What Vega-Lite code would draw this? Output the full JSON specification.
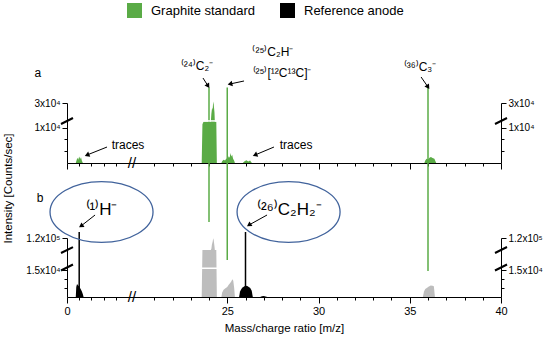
{
  "$schema": "https://vega.github.io/schema/vega-lite/v6.json",
  "autosize": {"type": "none"},
  "padding": {"left": 67, "top": 0, "right": 49, "bottom": 45},
  "width": 434,
  "height": 297,
  "config": {
    "font": "Liberation Sans",
    "view": {"stroke": null},
    "axis": {"grid": false, "labelColor": "#000", "titleColor": "#000", "domainColor": "#000", "tickColor": "#000", "labelFont": "Liberation Sans", "titleFont": "Liberation Sans"},
    "text": {"font": "Liberation Sans", "color": "#000"},
    "legend": {"labelFont": "Liberation Sans"}
  },
  "datasets": {
    "spectra": [
      {"series": "Graphite standard", "panel": "a", "peak": "a1", "mz": 0.72, "intensity": 0},
      {"series": "Graphite standard", "panel": "a", "peak": "a1", "mz": 0.78, "intensity": 700},
      {"series": "Graphite standard", "panel": "a", "peak": "a1", "mz": 0.85, "intensity": 1500},
      {"series": "Graphite standard", "panel": "a", "peak": "a1", "mz": 0.92, "intensity": 900},
      {"series": "Graphite standard", "panel": "a", "peak": "a1", "mz": 1.0, "intensity": 1800},
      {"series": "Graphite standard", "panel": "a", "peak": "a1", "mz": 1.08, "intensity": 1100},
      {"series": "Graphite standard", "panel": "a", "peak": "a1", "mz": 1.15, "intensity": 1600},
      {"series": "Graphite standard", "panel": "a", "peak": "a1", "mz": 1.22, "intensity": 600},
      {"series": "Graphite standard", "panel": "a", "peak": "a1", "mz": 1.3, "intensity": 0},
      {"series": "Graphite standard", "panel": "a", "peak": "a24", "mz": 23.6, "intensity": 0},
      {"series": "Graphite standard", "panel": "a", "peak": "a24", "mz": 23.64, "intensity": 11000},
      {"series": "Graphite standard", "panel": "a", "peak": "a24", "mz": 23.7, "intensity": 11800},
      {"series": "Graphite standard", "panel": "a", "peak": "a24", "mz": 23.85, "intensity": 11800},
      {"series": "Graphite standard", "panel": "a", "peak": "a24", "mz": 24.0, "intensity": 11800},
      {"series": "Graphite standard", "panel": "a", "peak": "a24", "mz": 24.1, "intensity": 11800},
      {"series": "Graphite standard", "panel": "a", "peak": "a24", "mz": 24.13, "intensity": 26500},
      {"series": "Graphite standard", "panel": "a", "peak": "a24", "mz": 24.17, "intensity": 28500},
      {"series": "Graphite standard", "panel": "a", "peak": "a24", "mz": 24.2, "intensity": 27800},
      {"series": "Graphite standard", "panel": "a", "peak": "a24", "mz": 24.23, "intensity": 30500},
      {"series": "Graphite standard", "panel": "a", "peak": "a24", "mz": 24.26, "intensity": 29500},
      {"series": "Graphite standard", "panel": "a", "peak": "a24", "mz": 24.3, "intensity": 27000},
      {"series": "Graphite standard", "panel": "a", "peak": "a24", "mz": 24.32, "intensity": 11800},
      {"series": "Graphite standard", "panel": "a", "peak": "a24", "mz": 24.4, "intensity": 11800},
      {"series": "Graphite standard", "panel": "a", "peak": "a24", "mz": 24.43, "intensity": 0},
      {"series": "Graphite standard", "panel": "a", "peak": "a25", "mz": 24.68, "intensity": 0},
      {"series": "Graphite standard", "panel": "a", "peak": "a25", "mz": 24.72, "intensity": 500},
      {"series": "Graphite standard", "panel": "a", "peak": "a25", "mz": 24.8, "intensity": 900},
      {"series": "Graphite standard", "panel": "a", "peak": "a25", "mz": 24.88, "intensity": 700},
      {"series": "Graphite standard", "panel": "a", "peak": "a25", "mz": 24.95, "intensity": 1300},
      {"series": "Graphite standard", "panel": "a", "peak": "a25", "mz": 25.02, "intensity": 1100},
      {"series": "Graphite standard", "panel": "a", "peak": "a25", "mz": 25.08, "intensity": 1900},
      {"series": "Graphite standard", "panel": "a", "peak": "a25", "mz": 25.13, "intensity": 1500},
      {"series": "Graphite standard", "panel": "a", "peak": "a25", "mz": 25.18, "intensity": 2800},
      {"series": "Graphite standard", "panel": "a", "peak": "a25", "mz": 25.22, "intensity": 1800},
      {"series": "Graphite standard", "panel": "a", "peak": "a25", "mz": 25.27, "intensity": 2300},
      {"series": "Graphite standard", "panel": "a", "peak": "a25", "mz": 25.32, "intensity": 1200},
      {"series": "Graphite standard", "panel": "a", "peak": "a25", "mz": 25.38, "intensity": 600},
      {"series": "Graphite standard", "panel": "a", "peak": "a25", "mz": 25.42, "intensity": 0},
      {"series": "Graphite standard", "panel": "a", "peak": "a26", "mz": 25.85, "intensity": 0},
      {"series": "Graphite standard", "panel": "a", "peak": "a26", "mz": 25.95, "intensity": 500},
      {"series": "Graphite standard", "panel": "a", "peak": "a26", "mz": 26.05, "intensity": 800},
      {"series": "Graphite standard", "panel": "a", "peak": "a26", "mz": 26.15, "intensity": 400},
      {"series": "Graphite standard", "panel": "a", "peak": "a26", "mz": 26.25, "intensity": 700},
      {"series": "Graphite standard", "panel": "a", "peak": "a26", "mz": 26.35, "intensity": 0},
      {"series": "Graphite standard", "panel": "a", "peak": "a36", "mz": 35.8, "intensity": 0},
      {"series": "Graphite standard", "panel": "a", "peak": "a36", "mz": 35.85, "intensity": 700},
      {"series": "Graphite standard", "panel": "a", "peak": "a36", "mz": 35.92, "intensity": 1200},
      {"series": "Graphite standard", "panel": "a", "peak": "a36", "mz": 36.0, "intensity": 1000},
      {"series": "Graphite standard", "panel": "a", "peak": "a36", "mz": 36.08, "intensity": 1500},
      {"series": "Graphite standard", "panel": "a", "peak": "a36", "mz": 36.16, "intensity": 1700},
      {"series": "Graphite standard", "panel": "a", "peak": "a36", "mz": 36.25, "intensity": 1400},
      {"series": "Graphite standard", "panel": "a", "peak": "a36", "mz": 36.35, "intensity": 1200},
      {"series": "Graphite standard", "panel": "a", "peak": "a36", "mz": 36.45, "intensity": 0},
      {"series": "Graphite standard", "panel": "b", "peak": "g24", "mz": 23.6, "intensity": 0},
      {"series": "Graphite standard", "panel": "b", "peak": "g24", "mz": 23.64, "intensity": 68000},
      {"series": "Graphite standard", "panel": "b", "peak": "g24", "mz": 23.7, "intensity": 70000},
      {"series": "Graphite standard", "panel": "b", "peak": "g24", "mz": 23.85, "intensity": 70000},
      {"series": "Graphite standard", "panel": "b", "peak": "g24", "mz": 24.0, "intensity": 70000},
      {"series": "Graphite standard", "panel": "b", "peak": "g24", "mz": 24.1, "intensity": 70000},
      {"series": "Graphite standard", "panel": "b", "peak": "g24", "mz": 24.13, "intensity": 100500},
      {"series": "Graphite standard", "panel": "b", "peak": "g24", "mz": 24.16, "intensity": 108000},
      {"series": "Graphite standard", "panel": "b", "peak": "g24", "mz": 24.2, "intensity": 113000},
      {"series": "Graphite standard", "panel": "b", "peak": "g24", "mz": 24.23, "intensity": 119500},
      {"series": "Graphite standard", "panel": "b", "peak": "g24", "mz": 24.26, "intensity": 116000},
      {"series": "Graphite standard", "panel": "b", "peak": "g24", "mz": 24.3, "intensity": 105000},
      {"series": "Graphite standard", "panel": "b", "peak": "g24", "mz": 24.32, "intensity": 70000},
      {"series": "Graphite standard", "panel": "b", "peak": "g24", "mz": 24.4, "intensity": 70000},
      {"series": "Graphite standard", "panel": "b", "peak": "g24", "mz": 24.43, "intensity": 0},
      {"series": "Graphite standard", "panel": "b", "peak": "g25", "mz": 24.68, "intensity": 0},
      {"series": "Graphite standard", "panel": "b", "peak": "g25", "mz": 24.72, "intensity": 2500},
      {"series": "Graphite standard", "panel": "b", "peak": "g25", "mz": 24.8, "intensity": 4000},
      {"series": "Graphite standard", "panel": "b", "peak": "g25", "mz": 24.9, "intensity": 4800},
      {"series": "Graphite standard", "panel": "b", "peak": "g25", "mz": 25.0, "intensity": 5600},
      {"series": "Graphite standard", "panel": "b", "peak": "g25", "mz": 25.08, "intensity": 6800},
      {"series": "Graphite standard", "panel": "b", "peak": "g25", "mz": 25.15, "intensity": 7600},
      {"series": "Graphite standard", "panel": "b", "peak": "g25", "mz": 25.22, "intensity": 8600},
      {"series": "Graphite standard", "panel": "b", "peak": "g25", "mz": 25.28, "intensity": 9800},
      {"series": "Graphite standard", "panel": "b", "peak": "g25", "mz": 25.33, "intensity": 9000},
      {"series": "Graphite standard", "panel": "b", "peak": "g25", "mz": 25.38, "intensity": 5000},
      {"series": "Graphite standard", "panel": "b", "peak": "g25", "mz": 25.42, "intensity": 0},
      {"series": "Graphite standard", "panel": "b", "peak": "g36", "mz": 35.72, "intensity": 0},
      {"series": "Graphite standard", "panel": "b", "peak": "g36", "mz": 35.78, "intensity": 3000},
      {"series": "Graphite standard", "panel": "b", "peak": "g36", "mz": 35.85, "intensity": 4500},
      {"series": "Graphite standard", "panel": "b", "peak": "g36", "mz": 35.95, "intensity": 5200},
      {"series": "Graphite standard", "panel": "b", "peak": "g36", "mz": 36.05, "intensity": 5800},
      {"series": "Graphite standard", "panel": "b", "peak": "g36", "mz": 36.15, "intensity": 6400},
      {"series": "Graphite standard", "panel": "b", "peak": "g36", "mz": 36.25, "intensity": 6200},
      {"series": "Graphite standard", "panel": "b", "peak": "g36", "mz": 36.32, "intensity": 6000},
      {"series": "Graphite standard", "panel": "b", "peak": "g36", "mz": 36.38, "intensity": 0},
      {"series": "Reference anode", "panel": "b", "peak": "b1", "mz": 0.72, "intensity": 0},
      {"series": "Reference anode", "panel": "b", "peak": "b1", "mz": 0.76, "intensity": 5500},
      {"series": "Reference anode", "panel": "b", "peak": "b1", "mz": 0.82, "intensity": 7200},
      {"series": "Reference anode", "panel": "b", "peak": "b1", "mz": 0.9, "intensity": 6500},
      {"series": "Reference anode", "panel": "b", "peak": "b1", "mz": 0.98, "intensity": 6000},
      {"series": "Reference anode", "panel": "b", "peak": "b1", "mz": 1.06, "intensity": 5200},
      {"series": "Reference anode", "panel": "b", "peak": "b1", "mz": 1.14, "intensity": 4200},
      {"series": "Reference anode", "panel": "b", "peak": "b1", "mz": 1.22, "intensity": 3000},
      {"series": "Reference anode", "panel": "b", "peak": "b1", "mz": 1.3, "intensity": 1500},
      {"series": "Reference anode", "panel": "b", "peak": "b1", "mz": 1.36, "intensity": 0},
      {"series": "Reference anode", "panel": "b", "peak": "b26", "mz": 25.65, "intensity": 0},
      {"series": "Reference anode", "panel": "b", "peak": "b26", "mz": 25.7, "intensity": 3000},
      {"series": "Reference anode", "panel": "b", "peak": "b26", "mz": 25.78, "intensity": 4600},
      {"series": "Reference anode", "panel": "b", "peak": "b26", "mz": 25.86, "intensity": 5400},
      {"series": "Reference anode", "panel": "b", "peak": "b26", "mz": 25.94, "intensity": 6000},
      {"series": "Reference anode", "panel": "b", "peak": "b26", "mz": 26.02, "intensity": 6300},
      {"series": "Reference anode", "panel": "b", "peak": "b26", "mz": 26.1, "intensity": 6100},
      {"series": "Reference anode", "panel": "b", "peak": "b26", "mz": 26.18, "intensity": 5600},
      {"series": "Reference anode", "panel": "b", "peak": "b26", "mz": 26.26, "intensity": 5000},
      {"series": "Reference anode", "panel": "b", "peak": "b26", "mz": 26.34, "intensity": 3500},
      {"series": "Reference anode", "panel": "b", "peak": "b26", "mz": 26.4, "intensity": 0},
      {"series": "Reference anode", "panel": "b", "peak": "b27", "mz": 26.8, "intensity": 0},
      {"series": "Reference anode", "panel": "b", "peak": "b27", "mz": 26.9, "intensity": 400},
      {"series": "Reference anode", "panel": "b", "peak": "b27", "mz": 27.0, "intensity": 600},
      {"series": "Reference anode", "panel": "b", "peak": "b27", "mz": 27.1, "intensity": 300},
      {"series": "Reference anode", "panel": "b", "peak": "b27", "mz": 27.2, "intensity": 0}
    ],
    "lines": [
      {"series": "Graphite standard", "panel": "a", "mz": 24, "lo": 0, "hi": 35000},
      {"series": "Graphite standard", "panel": "a", "mz": 25, "lo": 0, "hi": 35000},
      {"series": "Graphite standard", "panel": "a", "mz": 36, "lo": 0, "hi": 35000},
      {"series": "Graphite standard", "panel": "b", "mz": 24, "lo": 149000, "hi": 256400},
      {"series": "Graphite standard", "panel": "b", "mz": 25, "lo": 26000, "hi": 256400},
      {"series": "Graphite standard", "panel": "b", "mz": 36, "lo": 14500, "hi": 256400},
      {"series": "Reference anode", "panel": "b", "mz": 1, "lo": 0, "hi": 130900},
      {"series": "Reference anode", "panel": "b", "mz": 26, "lo": 0, "hi": 130900}
    ],
    "breaks": [
      {"panel": "a", "from": 23.57, "to": 24.46, "level": 12400},
      {"panel": "b", "from": 23.57, "to": 24.46, "level": 15500}
    ],
    "slashes": [
      {"panel": "a", "x1": -0.49, "x2": 0.49, "y1": 11080, "y2": 25160},
      {"panel": "a", "x1": 39.67, "x2": 40.33, "y1": 11080, "y2": 25160},
      {"panel": "b", "x1": -0.49, "x2": 0.49, "y1": 14720, "y2": 19100},
      {"panel": "b", "x1": 39.67, "x2": 40.33, "y1": 14720, "y2": 19100},
      {"panel": "b", "x1": -0.49, "x2": 0.49, "y1": 36900, "y2": 103600},
      {"panel": "b", "x1": 39.67, "x2": 40.33, "y1": 36900, "y2": 103600}
    ],
    "xbreaks": [
      {"panel": "a", "mz": 12.5, "level": 0, "label": "//"},
      {"panel": "b", "mz": 12.5, "level": 0, "label": "//"}
    ],
    "labels": [
      {"panel": "a", "label": "⁽²⁴⁾C₂⁻", "mz": 23.34, "level": 41900},
      {"panel": "a", "label": "⁽²⁵⁾C₂H⁻", "mz": 27.5, "level": 46450},
      {"panel": "a", "label": "⁽²⁵⁾[¹²C¹³C]⁻", "mz": 28.0, "level": 39680},
      {"panel": "a", "label": "⁽³⁶⁾C₃⁻", "mz": 35.56, "level": 41600},
      {"panel": "a", "label": "traces", "mz": 5.0, "level": 5070},
      {"panel": "a", "label": "traces", "mz": 28.77, "level": 5070},
      {"panel": "a", "label": "a", "mz": -2.38, "level": 39680},
      {"panel": "b", "label": "b", "mz": -2.21, "level": 192700}
    ],
    "biglabels": [
      {"label": "⁽¹⁾H⁻", "mz": 2.83, "level": 170900},
      {"label": "⁽²⁶⁾C₂H₂⁻", "mz": 28.4, "level": 170900}
    ],
    "ellipses": [
      {"ion": "H", "mz": 2.83, "level": 167300},
      {"ion": "C2H2", "mz": 28.36, "level": 167300}
    ],
    "arrows": [
      {"panel": "a", "id": "tr1", "dir": "dl", "x1": 3.28, "y1": 4500, "x2": 1.64, "y2": 2250},
      {"panel": "a", "id": "tr2", "dir": "dl", "x1": 27.56, "y1": 4500, "x2": 26.52, "y2": 2250},
      {"panel": "a", "id": "C2", "dir": "dr", "x1": 23.67, "y1": 38060, "x2": 23.95, "y2": 35480},
      {"panel": "a", "id": "CC", "dir": "l", "x1": 25.92, "y1": 37100, "x2": 25.15, "y2": 36130},
      {"panel": "a", "id": "C3", "dir": "dr", "x1": 35.62, "y1": 38390, "x2": 36.0, "y2": 35160},
      {"panel": "b", "id": "H", "dir": "dl2", "x1": 2.3, "y1": 161800, "x2": 1.15, "y2": 141800},
      {"panel": "b", "id": "C2H2", "dir": "dl2", "x1": 27.18, "y1": 161800, "x2": 26.19, "y2": 143600}
    ]
  },
  "resolve": {"scale": {"y": "independent"}, "axis": {"x": "independent", "y": "independent"}},
  "layer": [
    {
      "data": {"name": "spectra"},
      "transform": [{"filter": "datum.panel == 'a'"}],
      "mark": {"type": "area", "interpolate": "linear", "opacity": 1},
      "encoding": {
        "x": {"field": "mz", "type": "quantitative",
          "scale": {"type": "linear", "domain": [0, 5, 20, 40], "range": [0, 61, 69, 434], "zero": false, "nice": false},
          "axis": {"orient": "bottom", "offset": -134, "values": [0,1,2,3,4,21,22,23,24,25,26,27,28,29,30,31,32,33,34,35,36,37,38,39,40], "labels": false, "title": null, "tickSize": {"condition": {"test": "datum.value % 5 == 0", "value": 6}, "value": 3}}},
        "y": {"field": "intensity", "type": "quantitative", "stack": null,
          "scale": {"type": "linear", "domain": [0, 10000, 12000, 25000, 30000], "range": [163, 127.5, 121, 118.5, 103], "zero": false, "nice": false},
          "axis": {"orient": "left", "values": [3300, 6700, 10000, 30000], "labelExpr": "datum.value == 10000 ? '1x10⁴' : datum.value == 30000 ? '3x10⁴' : ''", "tickSize": {"condition": {"test": "datum.value == 10000 || datum.value == 30000", "value": 5}, "value": 3}, "labelFontSize": 10, "labelPadding": 2, "labelOverlap": false, "labelFlush": false,
            "title": "Intensity [Counts/sec]", "titleX": -59, "titleY": 188, "titleAngle": 270, "titleAlign": "center", "titleBaseline": "middle", "titleFontSize": 11.5, "titleFontWeight": "normal"}},
        "y2": {"datum": 0},
        "detail": {"field": "peak"},
        "color": {"field": "series", "type": "nominal",
          "scale": {"domain": ["Graphite standard", "Reference anode"], "range": ["#5aab46", "#000000"]},
          "legend": {"orient": "none", "legendX": 60, "legendY": 3, "direction": "horizontal", "title": null, "symbolType": "square", "symbolSize": 225, "symbolStrokeWidth": 0, "symbolOpacity": 1, "labelFontSize": 13, "labelOffset": 9, "columnPadding": 24}}
      }
    },
    {
      "data": {"name": "lines"},
      "transform": [{"filter": "datum.panel == 'a'"}],
      "mark": {"type": "rule", "color": "#5aab46", "strokeWidth": 1.5},
      "encoding": {
        "x": {"field": "mz", "type": "quantitative", "axis": null},
        "y": {"field": "lo", "type": "quantitative",
          "scale": {"type": "linear", "domain": [0, 10000, 12000, 25000, 30000], "range": [163, 127.5, 121, 118.5, 103], "zero": false, "nice": false},
          "axis": {"orient": "right", "values": [3300, 6700, 10000, 30000], "labelExpr": "datum.value == 10000 ? '1x10⁴' : datum.value == 30000 ? '3x10⁴' : ''", "tickSize": {"condition": {"test": "datum.value == 10000 || datum.value == 30000", "value": 5}, "value": 3}, "labelFontSize": 10, "labelPadding": 2, "labelOverlap": false, "labelFlush": false, "title": null}},
        "y2": {"field": "hi"}
      }
    },
    {
      "data": {"name": "breaks"},
      "transform": [{"filter": "datum.panel == 'a'"}],
      "mark": {"type": "rule", "color": "#ffffff", "strokeWidth": 1.5},
      "encoding": {
        "x": {"field": "from", "type": "quantitative", "axis": null},
        "x2": {"field": "to"},
        "y": {"field": "level", "type": "quantitative", "axis": null,
          "scale": {"type": "linear", "domain": [0, 10000, 12000, 25000, 30000], "range": [163, 127.5, 121, 118.5, 103], "zero": false, "nice": false}}
      }
    },
    {
      "data": {"name": "slashes"},
      "transform": [{"filter": "datum.panel == 'a'"}],
      "mark": {"type": "rule", "color": "#000000", "strokeWidth": 2},
      "encoding": {
        "x": {"field": "x1", "type": "quantitative", "axis": null},
        "x2": {"field": "x2"},
        "y": {"field": "y1", "type": "quantitative", "axis": null,
          "scale": {"type": "linear", "domain": [0, 10000, 12000, 25000, 30000], "range": [163, 127.5, 121, 118.5, 103], "zero": false, "nice": false}},
        "y2": {"field": "y2"}
      }
    },
    {
      "data": {"name": "xbreaks"},
      "transform": [{"filter": "datum.panel == 'a'"}],
      "mark": {"type": "text", "fontSize": 15, "align": "center", "baseline": "middle"},
      "encoding": {
        "x": {"field": "mz", "type": "quantitative", "axis": null},
        "y": {"field": "level", "type": "quantitative", "axis": null,
          "scale": {"type": "linear", "domain": [0, 10000, 12000, 25000, 30000], "range": [163, 127.5, 121, 118.5, 103], "zero": false, "nice": false}},
        "text": {"field": "label"}
      }
    },
    {
      "data": {"name": "labels"},
      "transform": [{"filter": "datum.panel == 'a'"}],
      "mark": {"type": "text", "fontSize": 12, "align": "center", "baseline": "middle"},
      "encoding": {
        "x": {"field": "mz", "type": "quantitative", "axis": null},
        "y": {"field": "level", "type": "quantitative", "axis": null,
          "scale": {"type": "linear", "domain": [0, 10000, 12000, 25000, 30000], "range": [163, 127.5, 121, 118.5, 103], "zero": false, "nice": false}},
        "text": {"field": "label"}
      }
    },
    {
      "data": {"name": "arrows"},
      "transform": [{"filter": "datum.panel == 'a'"}],
      "mark": {"type": "rule", "color": "#000000", "strokeWidth": 1},
      "encoding": {
        "x": {"field": "x1", "type": "quantitative", "axis": null},
        "x2": {"field": "x2"},
        "y": {"field": "y1", "type": "quantitative", "axis": null,
          "scale": {"type": "linear", "domain": [0, 10000, 12000, 25000, 30000], "range": [163, 127.5, 121, 118.5, 103], "zero": false, "nice": false}},
        "y2": {"field": "y2"}
      }
    },
    {
      "data": {"name": "arrows"},
      "transform": [{"filter": "datum.dir == 'dl'"}],
      "mark": {"type": "point", "shape": "triangle-up", "filled": true, "color": "#000000", "size": 30, "angle": 248, "opacity": 1},
      "encoding": {
        "x": {"field": "x2", "type": "quantitative", "axis": null},
        "y": {"field": "y2", "type": "quantitative", "axis": null,
          "scale": {"type": "linear", "domain": [0, 10000, 12000, 25000, 30000], "range": [163, 127.5, 121, 118.5, 103], "zero": false, "nice": false}}
      }
    },
    {
      "data": {"name": "arrows"},
      "transform": [{"filter": "datum.dir == 'dr'"}],
      "mark": {"type": "point", "shape": "triangle-up", "filled": true, "color": "#000000", "size": 30, "angle": 147, "opacity": 1},
      "encoding": {
        "x": {"field": "x2", "type": "quantitative", "axis": null},
        "y": {"field": "y2", "type": "quantitative", "axis": null,
          "scale": {"type": "linear", "domain": [0, 10000, 12000, 25000, 30000], "range": [163, 127.5, 121, 118.5, 103], "zero": false, "nice": false}}
      }
    },
    {
      "data": {"name": "arrows"},
      "transform": [{"filter": "datum.dir == 'l'"}],
      "mark": {"type": "point", "shape": "triangle-up", "filled": true, "color": "#000000", "size": 30, "angle": 258, "opacity": 1},
      "encoding": {
        "x": {"field": "x2", "type": "quantitative", "axis": null},
        "y": {"field": "y2", "type": "quantitative", "axis": null,
          "scale": {"type": "linear", "domain": [0, 10000, 12000, 25000, 30000], "range": [163, 127.5, 121, 118.5, 103], "zero": false, "nice": false}}
      }
    },
    {
      "data": {"name": "spectra"},
      "transform": [{"filter": "datum.panel == 'b' && datum.series == 'Graphite standard'"}],
      "mark": {"type": "area", "interpolate": "linear", "color": "#bdbdbd", "opacity": 1},
      "encoding": {
        "x": {"field": "mz", "type": "quantitative",
          "axis": {"orient": "bottom", "values": [0,1,2,3,4,21,22,23,24,25,26,27,28,29,30,31,32,33,34,35,36,37,38,39,40], "labelExpr": "datum.value % 5 == 0 ? datum.label : ''", "tickSize": {"condition": {"test": "datum.value % 5 == 0", "value": 6}, "value": 3}, "labelFontSize": 11, "labelPadding": 2, "labelFlush": false, "labelOverlap": false,
            "title": "Mass/charge ratio [m/z]", "titleFontSize": 11.5, "titleFontWeight": "normal", "titlePadding": 6}},
        "y": {"field": "intensity", "type": "quantitative", "stack": null,
          "scale": {"type": "linear", "domain": [0, 15000, 16000, 40000, 100000, 120000], "range": [297, 270, 266.5, 251, 249, 238], "zero": false, "nice": false},
          "axis": {"orient": "left", "values": [5000, 10000, 15000, 120000], "labelExpr": "datum.value == 15000 ? '1.5x10⁴' : datum.value == 120000 ? '1.2x10⁵' : ''", "tickSize": {"condition": {"test": "datum.value == 15000 || datum.value == 120000", "value": 5}, "value": 3}, "labelFontSize": 10, "labelPadding": 2, "labelOverlap": false, "labelFlush": false, "title": null}},
        "y2": {"datum": 0},
        "detail": {"field": "peak"}
      }
    },
    {
      "data": {"name": "spectra"},
      "transform": [{"filter": "datum.panel == 'b' && datum.series == 'Reference anode'"}],
      "mark": {"type": "area", "interpolate": "linear", "opacity": 1},
      "encoding": {
        "x": {"field": "mz", "type": "quantitative", "axis": null},
        "y": {"field": "intensity", "type": "quantitative", "stack": null,
          "scale": {"type": "linear", "domain": [0, 15000, 16000, 40000, 100000, 120000], "range": [297, 270, 266.5, 251, 249, 238], "zero": false, "nice": false},
          "axis": {"orient": "right", "values": [5000, 10000, 15000, 120000], "labelExpr": "datum.value == 15000 ? '1.5x10⁴' : datum.value == 120000 ? '1.2x10⁵' : ''", "tickSize": {"condition": {"test": "datum.value == 15000 || datum.value == 120000", "value": 5}, "value": 3}, "labelFontSize": 10, "labelPadding": 2, "labelOverlap": false, "labelFlush": false, "title": null}},
        "y2": {"datum": 0},
        "detail": {"field": "peak"},
        "color": {"field": "series", "type": "nominal",
          "scale": {"domain": ["Graphite standard", "Reference anode"], "range": ["#5aab46", "#000000"]},
          "legend": {"orient": "none", "legendX": 60, "legendY": 3, "direction": "horizontal", "title": null, "symbolType": "square", "symbolSize": 225, "symbolStrokeWidth": 0, "symbolOpacity": 1, "labelFontSize": 13, "labelOffset": 9, "columnPadding": 24}}
      }
    },
    {
      "data": {"name": "breaks"},
      "transform": [{"filter": "datum.panel == 'b'"}],
      "mark": {"type": "rule", "color": "#ffffff", "strokeWidth": 1.5},
      "encoding": {
        "x": {"field": "from", "type": "quantitative", "axis": null},
        "x2": {"field": "to"},
        "y": {"field": "level", "type": "quantitative", "axis": null,
          "scale": {"type": "linear", "domain": [0, 15000, 16000, 40000, 100000, 120000], "range": [297, 270, 266.5, 251, 249, 238], "zero": false, "nice": false}}
      }
    },
    {
      "data": {"name": "lines"},
      "transform": [{"filter": "datum.panel == 'b'"}],
      "mark": {"type": "rule", "strokeWidth": 1.5},
      "encoding": {
        "x": {"field": "mz", "type": "quantitative", "axis": null},
        "y": {"field": "lo", "type": "quantitative", "axis": null,
          "scale": {"type": "linear", "domain": [0, 15000, 16000, 40000, 100000, 120000], "range": [297, 270, 266.5, 251, 249, 238], "zero": false, "nice": false}},
        "y2": {"field": "hi"},
        "color": {"field": "series", "type": "nominal", "legend": null}
      }
    },
    {
      "data": {"name": "slashes"},
      "transform": [{"filter": "datum.panel == 'b'"}],
      "mark": {"type": "rule", "color": "#000000", "strokeWidth": 2},
      "encoding": {
        "x": {"field": "x1", "type": "quantitative", "axis": null},
        "x2": {"field": "x2"},
        "y": {"field": "y1", "type": "quantitative", "axis": null,
          "scale": {"type": "linear", "domain": [0, 15000, 16000, 40000, 100000, 120000], "range": [297, 270, 266.5, 251, 249, 238], "zero": false, "nice": false}},
        "y2": {"field": "y2"}
      }
    },
    {
      "data": {"name": "xbreaks"},
      "transform": [{"filter": "datum.panel == 'b'"}],
      "mark": {"type": "text", "fontSize": 15, "align": "center", "baseline": "middle"},
      "encoding": {
        "x": {"field": "mz", "type": "quantitative", "axis": null},
        "y": {"field": "level", "type": "quantitative", "axis": null,
          "scale": {"type": "linear", "domain": [0, 15000, 16000, 40000, 100000, 120000], "range": [297, 270, 266.5, 251, 249, 238], "zero": false, "nice": false}},
        "text": {"field": "label"}
      }
    },
    {
      "data": {"name": "ellipses"},
      "mark": {"type": "point", "shape": "M -1 0 A 1 0.59 0 1 1 1 0 A 1 0.59 0 1 1 -1 0 Z", "filled": false, "color": "#41639c", "strokeWidth": 1.3, "size": 10609, "opacity": 1},
      "encoding": {
        "x": {"field": "mz", "type": "quantitative", "axis": null},
        "y": {"field": "level", "type": "quantitative", "axis": null,
          "scale": {"type": "linear", "domain": [0, 15000, 16000, 40000, 100000, 120000], "range": [297, 270, 266.5, 251, 249, 238], "zero": false, "nice": false}}
      }
    },
    {
      "data": {"name": "biglabels"},
      "mark": {"type": "text", "fontSize": 17, "align": "center", "baseline": "middle"},
      "encoding": {
        "x": {"field": "mz", "type": "quantitative", "axis": null},
        "y": {"field": "level", "type": "quantitative", "axis": null,
          "scale": {"type": "linear", "domain": [0, 15000, 16000, 40000, 100000, 120000], "range": [297, 270, 266.5, 251, 249, 238], "zero": false, "nice": false}},
        "text": {"field": "label"}
      }
    },
    {
      "data": {"name": "labels"},
      "transform": [{"filter": "datum.panel == 'b'"}],
      "mark": {"type": "text", "fontSize": 12, "align": "center", "baseline": "middle"},
      "encoding": {
        "x": {"field": "mz", "type": "quantitative", "axis": null},
        "y": {"field": "level", "type": "quantitative", "axis": null,
          "scale": {"type": "linear", "domain": [0, 15000, 16000, 40000, 100000, 120000], "range": [297, 270, 266.5, 251, 249, 238], "zero": false, "nice": false}},
        "text": {"field": "label"}
      }
    },
    {
      "data": {"name": "arrows"},
      "transform": [{"filter": "datum.panel == 'b'"}],
      "mark": {"type": "rule", "color": "#000000", "strokeWidth": 1},
      "encoding": {
        "x": {"field": "x1", "type": "quantitative", "axis": null},
        "x2": {"field": "x2"},
        "y": {"field": "y1", "type": "quantitative", "axis": null,
          "scale": {"type": "linear", "domain": [0, 15000, 16000, 40000, 100000, 120000], "range": [297, 270, 266.5, 251, 249, 238], "zero": false, "nice": false}},
        "y2": {"field": "y2"}
      }
    },
    {
      "data": {"name": "arrows"},
      "transform": [{"filter": "datum.dir == 'dl2'"}],
      "mark": {"type": "point", "shape": "triangle-up", "filled": true, "color": "#000000", "size": 30, "angle": 236, "opacity": 1},
      "encoding": {
        "x": {"field": "x2", "type": "quantitative", "axis": null},
        "y": {"field": "y2", "type": "quantitative", "axis": null,
          "scale": {"type": "linear", "domain": [0, 15000, 16000, 40000, 100000, 120000], "range": [297, 270, 266.5, 251, 249, 238], "zero": false, "nice": false}}
      }
    }
  ]
}
